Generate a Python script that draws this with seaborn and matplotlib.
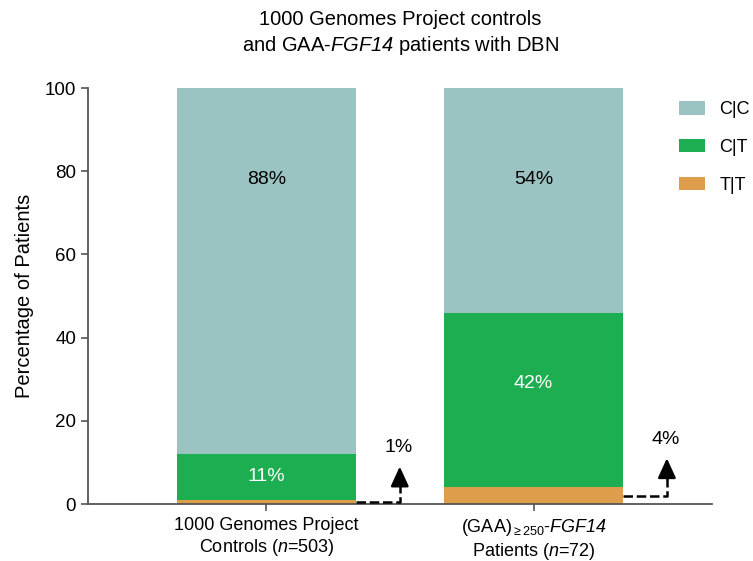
import pandas as pd
import matplotlib
matplotlib.use('Agg')
import matplotlib.pyplot as plt
import seaborn as sns

# data
groups = ['1000 Genomes Project\nControls ($\\mathsf{n}$=503)',
          '(GAA)$_{\\geq 250}$-$\\mathsf{FGF14}$\nPatients ($\\mathsf{n}$=72)']
genotypes = ['C|C', 'C|T', 'T|T']
cc = [88, 54]
ct = [11, 42]
tt = [1, 4]
colors = {'C|C': '#9bc3c2', 'C|T': '#1eae52', 'T|T': '#dd9d4b'}

# where the percent labels sit (y in data units)
cc_label_y = [78, 78]
ct_label_y = [6.5, 29]
tt_arrow_tip = [9, 11]
tt_label_y = [13.7, 15.4]

sns.set_theme(style='ticks', rc={'text.color': 'black', 'axes.labelcolor': 'black',
                                 'xtick.color': 'black', 'ytick.color': 'black'})
plt.rcParams['font.family'] = ['Liberation Sans', 'DejaVu Sans']
plt.rcParams['mathtext.fontset'] = 'custom'
plt.rcParams['mathtext.rm'] = 'Liberation Sans'
plt.rcParams['mathtext.it'] = 'Liberation Sans:italic'
# sf used as an italic font so digits come out italic too
plt.rcParams['mathtext.sf'] = 'Liberation Sans:italic'

df = pd.DataFrame({'group': groups, 'C|C': cc, 'C|T': ct, 'T|T': tt})
df['top_ct'] = df['C|T'] + df['T|T']
df['top_cc'] = df['C|C'] + df['top_ct']

fig = plt.figure(figsize=(7.53, 5.61), dpi=100)
ax = fig.add_axes([0.1169, 0.1016, 0.8287, 0.7415])

w = 0.668
for col, lab in [('top_cc', 'C|C'), ('top_ct', 'C|T'), ('T|T', 'T|T')]:
    sns.barplot(data=df, x='group', y=col, color=colors[lab], width=w, ax=ax,
                saturation=1, label=lab, linewidth=0, edgecolor='none')

for i in range(len(groups)):
    ax.text(i, cc_label_y[i], f'{cc[i]}%', ha='center', va='center', fontsize=14, color='black')
    ax.text(i, ct_label_y[i], f'{ct[i]}%', ha='center', va='center', fontsize=14, color='white')
    # dashed elbow arrow for the small T|T share
    x0 = i + w / 2
    x1 = x0 + 0.165
    y0 = tt[i] / 2
    ax.plot([x0, x1, x1], [y0, y0, tt_arrow_tip[i] - 3.5], ls=(0, (3.8, 1.5)), color='black',
            lw=1.8, clip_on=False, zorder=5)
    ax.annotate('', xy=(x1, tt_arrow_tip[i]), xytext=(x1, tt_arrow_tip[i] - 4),
                arrowprops=dict(arrowstyle='-|>,head_length=1.2,head_width=0.55',
                                mutation_scale=10, color='black', lw=1.8,
                                shrinkA=0, shrinkB=0))
    ax.text(x1 - 0.005, tt_label_y[i], f'{tt[i]}%', ha='center', va='center', fontsize=14)

ax.set_xlim(-0.668, 1.668)
ax.set_ylim(0, 100)
ax.set_yticks([0, 20, 40, 60, 80, 100])
ax.set_xlabel('')
ax.set_ylabel('Percentage of Patients', fontsize=14.5, labelpad=8)
ax.tick_params(axis='y', labelsize=13.5, length=5, width=1.2, color='#555555')
ax.tick_params(axis='x', labelsize=13, length=5, width=1.2, color='#555555', pad=4)
sns.despine(ax=ax)
for s in ['left', 'bottom']:
    ax.spines[s].set_color('#555555')
    ax.spines[s].set_linewidth(1.3)

ax.set_title('1000 Genomes Project controls\nand GAA-$\\mathsf{FGF14}$ patients with DBN',
             fontsize=14.5, pad=27, linespacing=1.25)

ax.legend(loc='upper left', bbox_to_anchor=(0.9017, 0.8200), bbox_transform=fig.transFigure,
          frameon=False, fontsize=13, handlelength=1.45, handleheight=0.78,
          handletextpad=0.8, labelspacing=1.15, borderpad=0, borderaxespad=0)

fig.savefig('out.png', dpi=100)
